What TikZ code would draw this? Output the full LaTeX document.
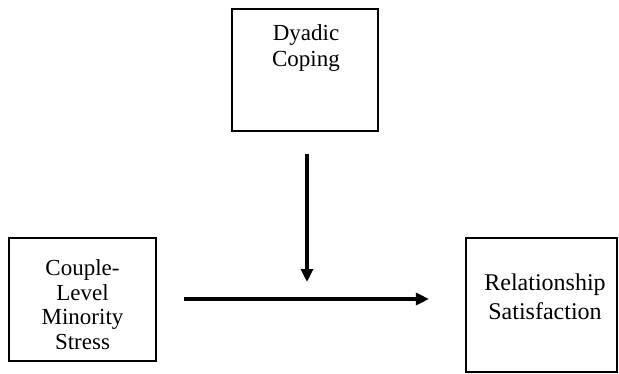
\documentclass[tikz,border=0pt]{standalone}
\usepackage{fontspec}
\setmainfont{Liberation Serif}
\usetikzlibrary{arrows.meta}
\begin{document}
\begin{tikzpicture}[x=1pt,y=-1pt,
  box/.style={draw=black,line width=2.1pt,inner sep=0pt,minimum width=#1},
  lbl/.style={inner sep=0pt,align=center,anchor=base},
  arr/.style={line width=3.2pt,-{Triangle[length=13pt,width=12pt]}}]
\useasboundingbox (0,0) rectangle (619,373);
\node[box=146pt,minimum height=122pt] (D) at (305,70) {};
\node[box=147pt,minimum height=123pt] (C) at (82.5,299.5) {};
\node[box=151pt,minimum height=134pt] (R) at (541.5,305) {};
\node[lbl,font=\fontsize{23}{26}\selectfont] (Dt) at (306,66) {Dyadic\\Coping};
\node[lbl,font=\fontsize{23}{24.4}\selectfont] (Ct) at (82.5,349) {Couple-\\Level\\Minority\\Stress};
\node[lbl,font=\fontsize{24}{29.5}\selectfont] (Rt) at (545,319.5) {Relationship\\Satisfaction};
\coordinate (m) at (307,299);
\draw[arr,shorten <=27pt,shorten >=36pt] (C.east |- m) -- (R.west |- m);
\draw[arr,shorten <=22pt,shorten >=17pt] (D.south -| m) -- (m);
\end{tikzpicture}
\end{document}
